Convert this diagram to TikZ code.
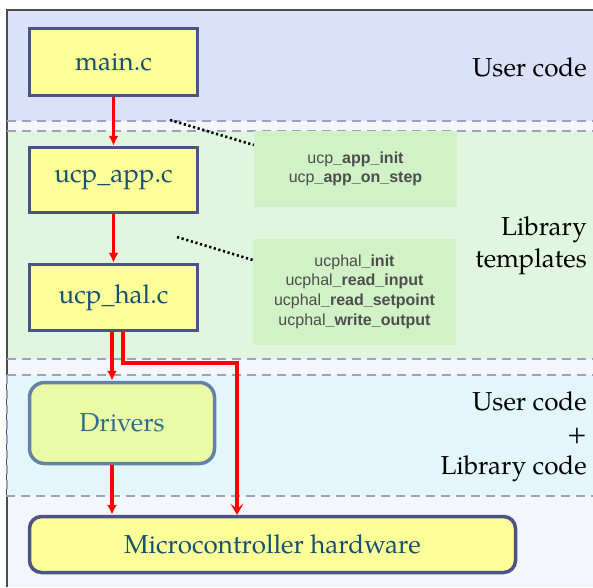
\documentclass[tikz,border=0pt]{standalone}
\usepackage{fontspec}
\setmainfont{TeX Gyre Pagella}
\newfontfamily\apifont{Liberation Sans}
\usetikzlibrary{arrows.meta}

\definecolor{userblue}{HTML}{DAE1F9}
\definecolor{gapwhite}{HTML}{F5F6FC}
\definecolor{libgreen}{HTML}{E0F6DF}
\definecolor{apigreen}{HTML}{D1F1C6}
\definecolor{drvcyan}{HTML}{E3F6FA}
\definecolor{boxyellow}{HTML}{FFFF99}
\definecolor{boxborder}{HTML}{4A5585}
\definecolor{boxtext}{HTML}{14506F}
\definecolor{drvfill}{HTML}{EBFAA5}
\definecolor{drvborder}{HTML}{6482A8}
\definecolor{drvtext}{HTML}{2E6E8E}
\definecolor{sepline}{HTML}{9BA3BF}
\definecolor{apitext}{HTML}{4D4D4D}

\tikzset{
	sep/.style={sepline, line width=2.2pt, dash pattern=on 9pt off 6pt},
	filebox/.style={draw=boxborder, fill=boxyellow, line width=3.5pt, text=boxtext,
		font=\fontsize{26}{31}\selectfont, minimum width=168pt, inner sep=0pt},
	drvbox/.style={draw=drvborder, fill=drvfill, line width=3.5pt, text=drvtext, rounded corners=15pt,
		font=\fontsize{26}{31}\selectfont, minimum width=185pt, minimum height=81pt, inner sep=0pt},
	apibox/.style={fill=apigreen, text=apitext, align=center, inner sep=0pt,
		font=\apifont\fontsize{16}{19.6}\selectfont, minimum width=203pt},
	layertext/.style={anchor=east, align=right, inner sep=0pt, font=\fontsize{26}{32}\selectfont},
	flow/.style={red, line width=3.2pt, -{Latex[length=10pt,width=10pt]}},
	pointer/.style={line width=2.6pt, dash pattern=on 2.2pt off 2.6pt}
}

\begin{document}
\begin{tikzpicture}[x=1pt, y=-1pt]
		\useasboundingbox (0,0) rectangle (593,587);

		% layers
		\fill[gapwhite] (7,10) rectangle (593,587);
		\fill[userblue] (7,10) rectangle (593,121);
		\fill[libgreen] (7,131) rectangle (593,359);
		\draw[black!70, line width=2.2pt] (7,587) -- (7,10) -- (593,10);
		\filldraw[drvcyan, draw=sepline, line width=2.2pt, dash pattern=on 9pt off 6pt] (7,375) rectangle (603,496);
		\draw[sep] (7,121) -- (593,121);
		\draw[sep] (7,131) -- (593,131);
		\draw[sep] (7,359) -- (593,359);

		\node[layertext] (lbluser) at (587,67) {User code};
		\node[layertext] (lbllib) at (587,246) {Library\\templates};
		\node[layertext] (lbldrv) at (587,437) {User code\\+\\Library code};

		% files
		\node[filebox, minimum height=67pt] (main) at (113.5,62) {main.c};
		\node[filebox, minimum height=65pt] (app) at (113.5,180) {ucp\_app.c};
		\node[filebox, minimum height=66pt] (hal) at (113.5,297.5) {ucp\_hal.c};
		\node[drvbox] (drv) at (122,423) {Drivers};
		\node[filebox, rounded corners=12pt, minimum width=486pt, minimum height=56pt] (mcu) at (272.5,544.5) {Microcontroller hardware};

		% functions
		\node[apibox, minimum height=76pt] (appapi) at (355.5,169) {ucp\textbf{\_app\_init}\\ucp\textbf{\_app\_on\_step}};
		\node[apibox, minimum height=106pt] (halapi) at (354.5,291.5) {ucphal\textbf{\_init}\\ucphal\textbf{\_read\_input}\\ucphal\textbf{\_read\_setpoint}\\ucphal\textbf{\_write\_output}};

		\coordinate (apptip) at (170,120);
		\coordinate (haltip) at (177,237);
		\draw[pointer] (apptip) -- (appapi.west |- 0,145);
		\draw[pointer] (haltip) -- (halapi.west |- 0,260);

		% calls
		\coordinate (left) at (112,0);
		\coordinate (right) at (123,0);
		\coordinate (bend) at (237,363);
		\draw[flow] (main) -- (app);
		\draw[flow] (app) -- (hal);
		\draw[flow] (hal.south -| left) -- (drv.north -| left);
		\draw[flow] (drv.south -| left) -- (mcu.north -| left);
		\draw[red, line width=3.2pt, -{Stealth[length=11pt,width=13pt,inset=5pt]}] (hal.south -| right) |- (bend) -- (bend |- mcu.north);
	\end{tikzpicture}
\end{document}
